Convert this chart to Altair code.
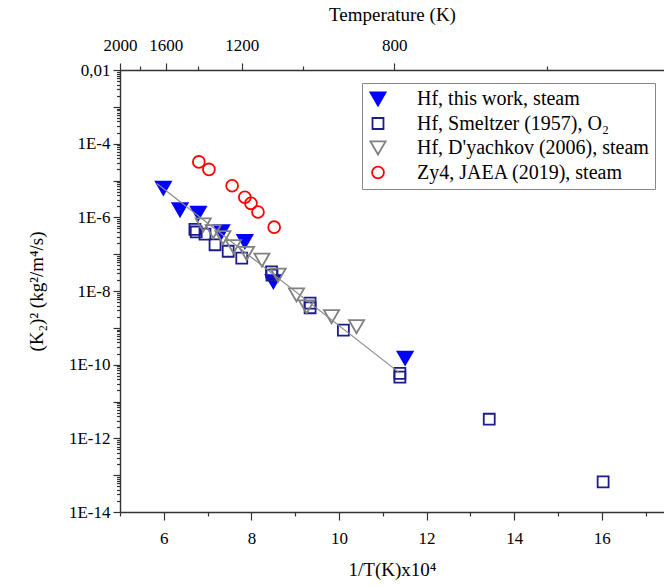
import altair as alt
import pandas as pd

FONT = "Liberation Serif"

series_names = [
    "Hf, this work, steam",
    "Hf, Smeltzer (1957), O₂",
    "Hf, D'yachkov (2006), steam",
    "Zy4, JAEA (2019), steam",
]

# Hf, this work, steam
tw_x = [5.99, 6.37, 6.79, 7.32, 7.85, 8.50, 11.51]
tw_y = [6.2e-6, 1.6e-6, 1.3e-6, 4.1e-7, 2.2e-7, 1.8e-8, 1.5e-10]

# Hf, Smeltzer (1957), O2
sm_x = [6.71, 6.74, 6.94, 7.17, 7.47, 7.78, 8.46, 8.47, 9.34, 9.34, 10.10, 11.39, 11.39, 13.43, 16.03]
sm_y = [4.7e-7, 4.0e-7, 3.5e-7, 1.8e-7, 1.2e-7, 7.8e-8, 3.3e-8, 2.7e-8, 4.7e-9, 3.5e-9, 8.7e-10,
        5.8e-11, 4.6e-11, 3.3e-12, 6.6e-14]

# Hf, D'yachkov (2006), steam
dy_x = [6.90, 7.13, 7.35, 7.59, 7.89, 8.24, 8.61, 9.03, 9.26, 9.83, 10.40]
dy_y = [6.2e-7, 4.1e-7, 2.8e-7, 1.6e-7, 1.05e-7, 6.9e-8, 2.7e-8, 7.8e-9, 3.7e-9, 2.0e-9, 1.07e-9]

# Zy4, JAEA (2019), steam
ja_x = [6.80, 7.03, 7.56, 7.85, 7.99, 8.15, 8.52]
ja_y = [3.2e-5, 2.0e-5, 7.2e-6, 3.5e-6, 2.4e-6, 1.4e-6, 5.4e-7]

# fit line end points
fit_x = [5.84, 11.39]
fit_y = [8.3e-6, 5.9e-11]

# top axis temperatures
top_T = [2000, 1800, 1600, 1400, 1200, 1000, 800, 600]

# bottom axis ticks
x_ticks = [5, 6, 7, 8, 9, 10, 11, 12, 13, 14, 15, 16, 17]

rows = []
for name, xs, ys in zip(series_names, [tw_x, sm_x, dy_x, ja_x], [tw_y, sm_y, dy_y, ja_y]):
    for a, b in zip(xs, ys):
        rows.append({"series": name, "x": a, "y": b})
df = pd.DataFrame(rows)
fit_df = pd.DataFrame({"x": fit_x, "y": fit_y})
top_df = pd.DataFrame({"T": top_T})
top_df["inv"] = 1e4 / top_df["T"]

y_ticks = [m * 10.0 ** k for k in range(-14, -2) for m in range(1, 10)] + [1e-2]

xscale = alt.Scale(domain=[5, 17.42], nice=False, zero=False)
yscale = alt.Scale(type="log", domain=[1e-14, 1e-2], nice=False)

common = dict(labelFont=FONT, titleFont=FONT, labelFontSize=17, titleFontSize=19,
              labelColor="black", titleColor="black", titleFontWeight="normal",
              labelOverlap=False, labelFlush=False, grid=False,
              domainColor="#333333", domainWidth=1.4, tickColor="#333333", tickWidth=1.2)

x_axis = alt.Axis(
    title="1/T(K)x10⁴",
    values=x_ticks,
    labelExpr="datum.value % 2 == 0 ? format(datum.value, 'd') : ''",
    tickSize={"condition": {"test": "datum.value % 2 == 0", "value": 8}, "value": 4},
    labelPadding=10,
    titlePadding=14,
    **common,
)

ylog = "log(datum.value)/LN10"
y_major_test = f"abs({ylog} - round({ylog})) < 0.01 && round({ylog}) % 2 == 0"
y_dec_test = f"abs({ylog} - round({ylog})) < 0.01"
y_axis = alt.Axis(
    title="(K₂)² (kg²/m⁴/s)",
    values=y_ticks,
    labelExpr=f"datum.value > 0.0099 ? '0,01' : (({y_major_test}) ? '1E' + round({ylog}) : '')",
    tickSize={"condition": {"test": y_dec_test, "value": 7}, "value": 3.5},
    labelPadding=3,
    titlePadding=22,
    **common,
)

legend = alt.Legend(
    title=None, orient="none", legendX=242, legendY=13,
    strokeColor="#888888", fillColor="white", padding=6,
    labelFont=FONT, labelFontSize=20, labelColor="black", labelLimit=0,
    rowPadding=3.5, labelOffset=29, symbolStrokeWidth=1.8,
)

points = alt.Chart(df).mark_point(strokeWidth=1.8, opacity=1, fillOpacity=1).encode(
    x=alt.X("x:Q", scale=xscale, axis=x_axis),
    y=alt.Y("y:Q", scale=yscale, axis=y_axis),
    shape=alt.Shape("series:N", scale=alt.Scale(domain=series_names,
                    range=["triangle-down", "square", "triangle-down", "circle"]), legend=legend),
    stroke=alt.Stroke("series:N", scale=alt.Scale(domain=series_names,
                      range=["#0000ff", "#1c1c8c", "#808080", "#ff0000"]), legend=legend),
    fill=alt.Fill("series:N", scale=alt.Scale(domain=series_names,
                  range=["#0000ff", "transparent", "transparent", "transparent"]), legend=legend),
    size=alt.Size("series:N", scale=alt.Scale(type="ordinal", domain=series_names,
                  range=[230, 120, 230, 140]), legend=legend),
)

line = alt.Chart(fit_df).mark_line(color="#8a8a8a", strokeWidth=1.2).encode(
    x=alt.X("x:Q", scale=xscale),
    y=alt.Y("y:Q", scale=yscale),
)

top_test = "indexof([2000,1600,1200,800], round(10000/datum.value)) >= 0"
top_axis = alt.Axis(
    orient="top",
    title="Temperature (K)",
    values=list(top_df["inv"]),
    labelExpr=f"{top_test} ? format(round(10000/datum.value), 'd') : ''",
    tickSize={"condition": {"test": top_test, "value": 7}, "value": 4},
    labelPadding=9,
    titlePadding=12,
    **common,
)
top = alt.Chart(top_df).mark_point(opacity=0).encode(
    x=alt.X("inv:Q", scale=alt.Scale(domain=[5, 19.88], nice=False, zero=False), axis=top_axis),
)

chart = (
    alt.layer(alt.layer(points, line), top)
    .resolve_scale(x="independent")
    .properties(
        width=544, height=442,
        autosize=alt.AutoSizeParams(type="none"),
        padding={"left": 120, "top": 70, "right": 0, "bottom": 75},
        background="white",
    )
    .configure_view(strokeWidth=0)
)

chart.save("out.html", embed_options={"renderer": "svg", "actions": False})
